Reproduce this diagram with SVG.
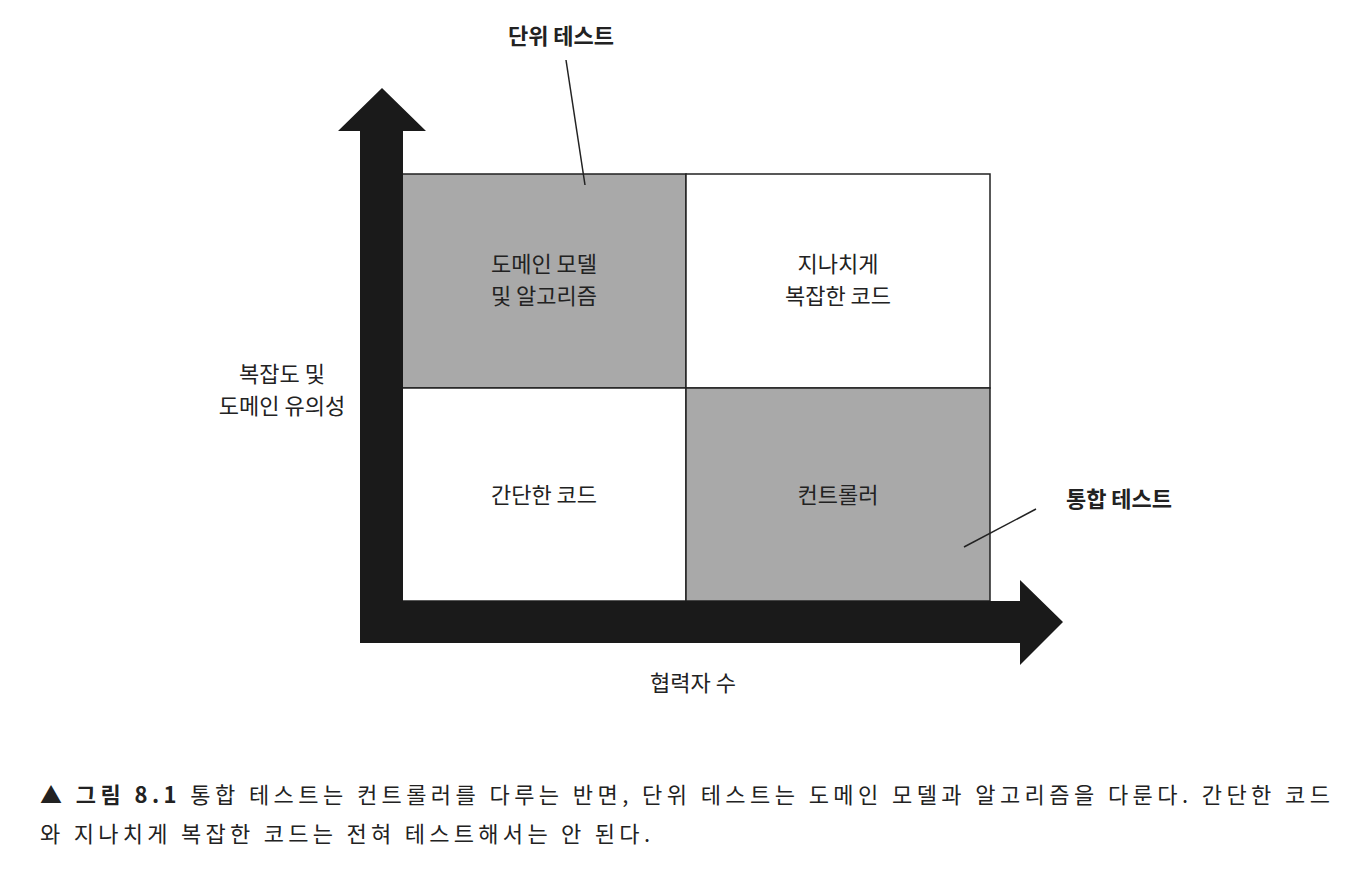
<svg xmlns="http://www.w3.org/2000/svg" width="1354" height="878" viewBox="0 0 1354 878">
<style>
text{font-family:"Noto Sans CJK KR","Noto Sans",sans-serif;fill:#222;}
.c{font-size:22px;text-anchor:middle;}
.b{font-size:22px;font-weight:bold;text-anchor:middle;}
.g{fill:#a9a9a9;stroke:#222;stroke-width:1.5;}
.w{fill:#fff;stroke:#222;stroke-width:1.5;}
.cap{font-size:22px;}
</style>
<rect width="1354" height="878" fill="#fff"/>
<g id="cells">
<g id="n1"><rect class="g" x="402" y="174" width="284" height="214"/><text class="c" x="544" y="272">도메인 모델</text><text class="c" x="544" y="304">및 알고리즘</text></g>
<g id="n2"><rect class="w" x="686" y="174" width="304" height="214"/><text class="c" x="838" y="272">지나치게</text><text class="c" x="838" y="304">복잡한 코드</text></g>
<g id="n3"><rect class="w" x="402" y="388" width="284" height="213"/><text class="c" x="544" y="503">간단한 코드</text></g>
<g id="n4"><rect class="g" x="686" y="388" width="304" height="213"/><text class="c" x="838" y="503">컨트롤러</text></g>
</g>
<g id="axes" fill="#1a1a1a">
<polygon points="360,643 360,131 338,131 382,88 426,131 403,131 403,601 1020,601 1020,580 1063,622 1020,665 1020,643"/>
</g>
<g id="connectors" stroke="#222" stroke-width="1.5">
<line x1="566" y1="60" x2="585" y2="185"/>
<line x1="1036" y1="509" x2="964" y2="547"/>
</g>
<g id="labels">
<text class="b" x="561" y="44">단위 테스트</text>
<text class="b" x="1119" y="507">통합 테스트</text>
<text class="c" x="282" y="382">복잡도 및</text>
<text class="c" x="282" y="414">도메인 유의성</text>
<text class="c" x="693" y="691">협력자 수</text>
</g>
<g id="caption">
<text class="cap" x="40" y="803" textLength="1290" lengthAdjust="spacing"><tspan font-weight="bold">▲ 그림 8.1</tspan>  통합 테스트는 컨트롤러를 다루는 반면, 단위 테스트는 도메인 모델과 알고리즘을 다룬다. 간단한 코드</text>
<text class="cap" x="40" y="842" textLength="610" lengthAdjust="spacing">와 지나치게 복잡한 코드는 전혀 테스트해서는 안 된다.</text>
</g>
</svg>
